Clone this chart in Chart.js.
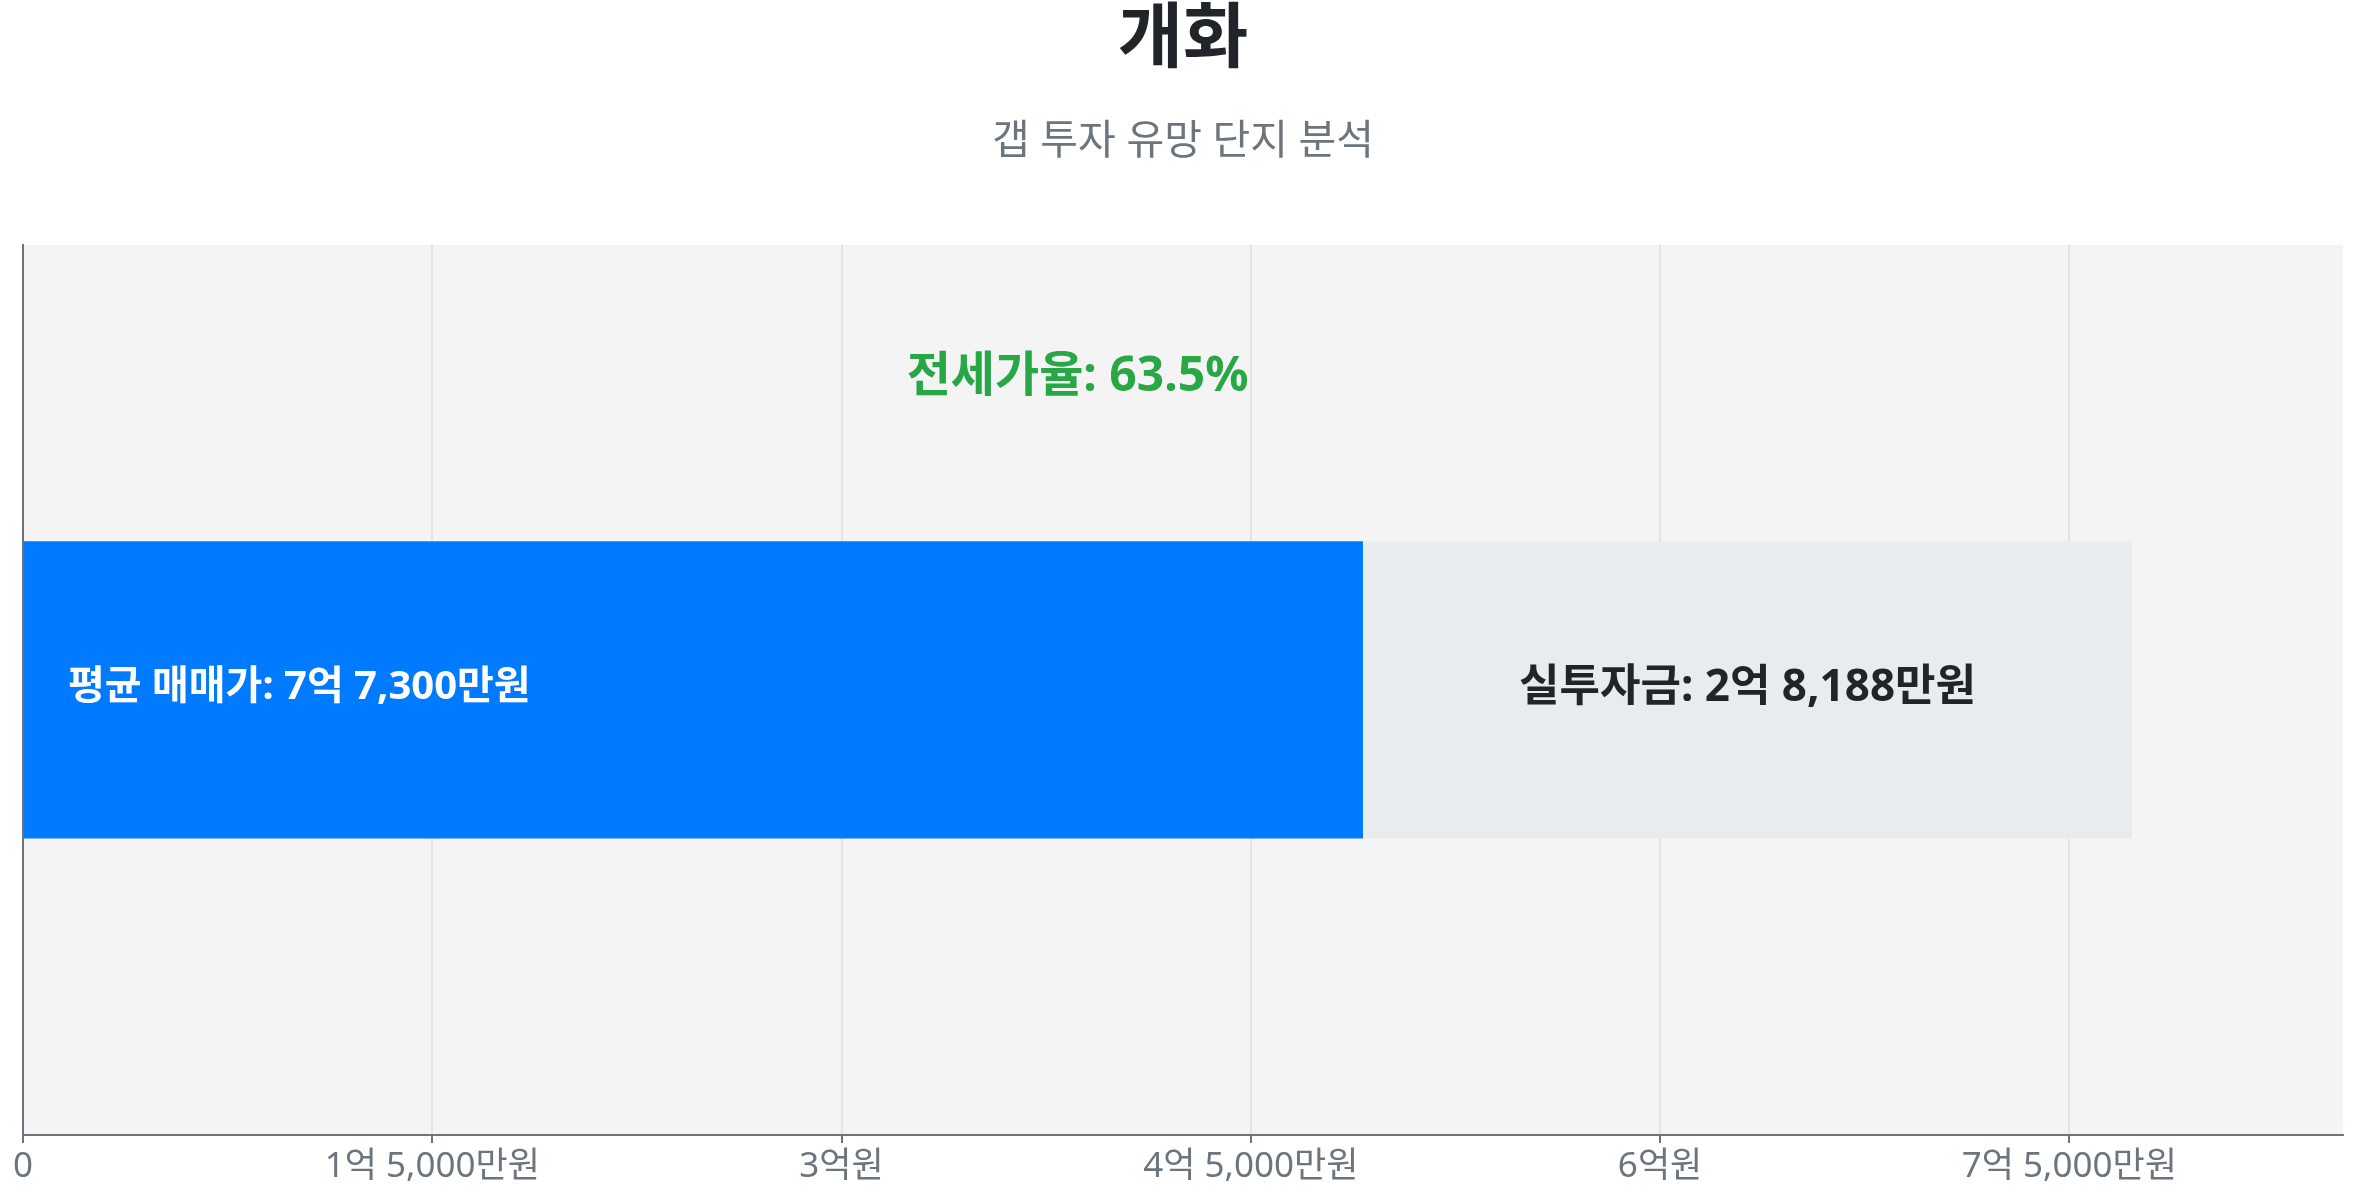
<!DOCTYPE html>
<html lang="ko">
<head>
<meta charset="utf-8">
<title>개화 갭 투자 분석</title>
<script src="https://cdn.jsdelivr.net/npm/chart.js@4.4.1/dist/chart.umd.min.js"></script>
<style>
  html, body { margin: 0; padding: 0; background: #fff; }
  #wrap { position: relative; width: 2357px; height: 1200px; }
</style>
</head>
<body>
<div id="wrap"><canvas id="chart-gap"></canvas></div>
<script>
// Values in 만원
const categories   = ['개화'];
const jeonseValues = [49112];   // 전세가 (blue)
const gapValues    = [28188];   // 실투자금 (gray)
const salePrices   = [77300];   // 평균 매매가
const jeonseRates  = [63.5];    // 전세가율 %
const tickValues   = [0, 15000, 30000, 45000, 60000, 75000];

const FONT = "'Noto Sans', 'Noto Sans CJK KR', sans-serif";

function fmtWon(v) {
  if (v === 0) return '0';
  const eok = Math.floor(v / 10000);
  const man = Math.round(v % 10000);
  if (eok === 0) return man.toLocaleString('en-US') + '만원';
  if (man === 0) return eok + '억원';
  return eok + '억 ' + man.toLocaleString('en-US') + '만원';
}

// Light gray plot background
const plotBg = {
  id: 'plotBg',
  beforeDraw(chart) {
    const { ctx, chartArea: a } = chart;
    ctx.save();
    ctx.fillStyle = '#f4f4f4';
    ctx.fillRect(a.left, a.top, a.right - a.left, a.bottom - a.top);
    ctx.restore();
  }
};

// Labels on / above the bars
const barLabels = {
  id: 'barLabels',
  afterDatasetsDraw(chart) {
    const { ctx } = chart;
    const x = chart.scales.x;
    const blue = chart.getDatasetMeta(0).data[0];
    const gray = chart.getDatasetMeta(1).data[0];
    if (!blue || !gray) return;

    ctx.save();
    ctx.textBaseline = 'middle';

    ctx.font = `bold 40px ${FONT}`;
    ctx.fillStyle = '#ffffff';
    ctx.textAlign = 'left';
    ctx.fillText('평균 매매가: ' + fmtWon(salePrices[0]), blue.base + 44, blue.y - 2);

    ctx.font = `bold 44px ${FONT}`;
    ctx.fillStyle = '#212529';
    ctx.textAlign = 'center';
    ctx.fillText('실투자금: ' + fmtWon(gapValues[0]), (gray.base + gray.x) / 2, gray.y - 1);

    ctx.font = `bold 48px ${FONT}`;
    ctx.fillStyle = '#28a745';
    const top = blue.y - blue.height / 2;
    ctx.fillText('전세가율: ' + jeonseRates[0] + '%', x.getPixelForValue(salePrices[0] / 2), top - 164);
    ctx.restore();
  }
};

new Chart(document.getElementById('chart-gap'), {
  type: 'bar',
  data: {
    labels: categories,
    datasets: [
      { label: '전세가', data: jeonseValues, backgroundColor: '#007bff', borderWidth: 0 },
      { label: '실투자금', data: gapValues, backgroundColor: '#e9ecef', borderWidth: 0 }
    ]
  },
  options: {
    indexAxis: 'y',
    responsive: true,
    maintainAspectRatio: false,
    animation: false,
    barPercentage: 0.334,
    categoryPercentage: 1,
    layout: { padding: { left: 23, right: 14, top: 0, bottom: 9 } },
    plugins: {
      legend: { display: false },
      tooltip: { enabled: false },
      title: {
        display: true,
        text: categories[0],
        color: '#212529',
        font: { family: FONT, size: 71, weight: 'bold', lineHeight: 1.15 },
        padding: { top: 0, bottom: 36 }
      },
      subtitle: {
        display: true,
        text: '갭 투자 유망 단지 분석',
        color: '#6c757d',
        font: { family: FONT, size: 41, weight: 'normal', lineHeight: 1.2 },
        padding: { top: 0, bottom: 78 }
      }
    },
    scales: {
      x: {
        stacked: true,
        min: 0,
        max: salePrices[0] * 1.1,
        afterBuildTicks: scale => { scale.ticks = tickValues.map(v => ({ value: v })); },
        border: { display: true, color: '#6c757d', width: 2 },
        grid: { color: '#e4e4e4', lineWidth: 2, tickColor: '#6c757d', tickWidth: 2, tickLength: 8 },
        ticks: {
          color: '#6c757d',
          padding: 3,
          maxRotation: 0,
          font: { family: FONT, size: 35 },
          callback: v => fmtWon(v)
        }
      },
      y: {
        stacked: true,
        border: { display: true, color: '#6c757d', width: 2 },
        grid: { display: false, drawTicks: false },
        ticks: { display: false }
      }
    }
  },
  plugins: [plotBg, barLabels]
});
</script>
</body>
</html>
